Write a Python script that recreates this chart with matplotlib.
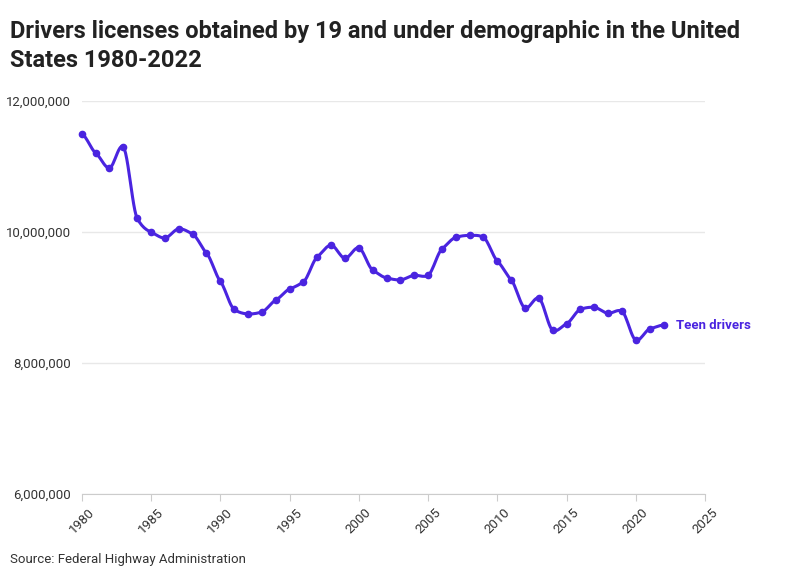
import matplotlib
matplotlib.use("Agg")
import matplotlib.pyplot as plt
import numpy as np
from matplotlib import font_manager

years = list(range(1980, 2023))
drivers = [11.50, 11.21, 10.98, 11.30, 10.21, 10.00, 9.91, 10.05, 9.97, 9.68,
           9.25, 8.82, 8.75, 8.78, 8.96, 9.13, 9.24, 9.62, 9.80, 9.60,
           9.76, 9.42, 9.30, 9.27, 9.34, 9.34, 9.74, 9.92, 9.95, 9.92,
           9.56, 9.27, 8.84, 8.99, 8.50, 8.60, 8.82, 8.85, 8.76, 8.79,
           8.35, 8.52, 8.58]
drivers = [v * 1e6 for v in drivers]
yticks = [6e6, 8e6, 10e6, 12e6]
xticks = list(range(1980, 2030, 5))

names = {f.name for f in font_manager.fontManager.ttflist}
fam = [f for f in ["Liberation Sans Narrow", "Roboto", "DejaVu Sans"] if f in names]
plt.rcParams['font.family'] = fam

color = "#4a24e0"
fig = plt.figure(figsize=(7.94, 5.75), dpi=100)
ax = fig.add_axes([0.103, 0.141, 0.785, 0.683])

x = np.array(years, float); y = np.array(drivers)
xs, ys = [], []
for i in range(len(x) - 1):
    p0 = y[max(i - 1, 0)]; p1 = y[i]; p2 = y[i + 1]; p3 = y[min(i + 2, len(y) - 1)]
    t = np.linspace(0, 1, 12, endpoint=False)
    m1 = (p2 - p0) / 2 * 0.6; m2 = (p3 - p1) / 2 * 0.6
    h = (2*t**3 - 3*t**2 + 1)*p1 + (t**3 - 2*t**2 + t)*m1 + (-2*t**3 + 3*t**2)*p2 + (t**3 - t**2)*m2
    xs.extend(x[i] + t); ys.extend(h)
xs.append(x[-1]); ys.append(y[-1])
ax.plot(xs, ys, color=color, lw=2.2, clip_on=False)
ax.plot(years, drivers, 'o', color=color, ms=4.5, clip_on=False)
ax.text(2022.9, drivers[-1], "Teen drivers", color=color, fontsize=9.5,
        fontweight='bold', va='center')

ax.set_xlim(1980, 2025)
ax.set_ylim(6e6, 12e6)
ax.set_yticks(yticks)
ax.set_yticklabels([f"{int(v):,}" for v in yticks], fontsize=9.5, color="#333333")
ax.set_xticks(xticks)
ax.set_xticklabels([str(v) for v in xticks], rotation=45, fontsize=9.5, color="#333333")
ax.grid(axis='y', color="#e8e8e8", lw=1)
ax.set_axisbelow(True)
for s in ['top', 'right', 'left']:
    ax.spines[s].set_visible(False)
ax.spines['bottom'].set_color("#cccccc")
ax.tick_params(axis='y', length=0, pad=8)
ax.tick_params(axis='x', color="#cccccc", length=5)

fig.text(0.013, 0.965, "Drivers licenses obtained by 19 and under demographic in the United\nStates 1980-2022",
         fontsize=17, fontweight='bold', color="#222222", va='top', linespacing=1.35)
fig.text(0.013, 0.02, "Source: Federal Highway Administration", fontsize=9.5, color="#333333")
fig.savefig("out.png", dpi=100)
